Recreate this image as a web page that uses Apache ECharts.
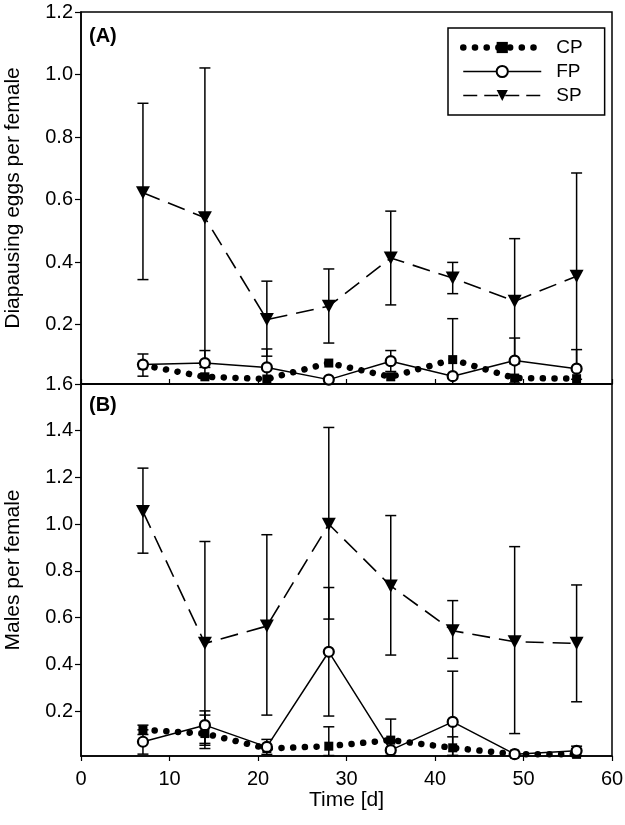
<!DOCTYPE html>
<html>
<head>
<meta charset="utf-8">
<script src="https://cdn.jsdelivr.net/npm/echarts@6/dist/echarts.min.js"></script>
<style>
html,body{margin:0;padding:0;background:#fff;}
#chart{width:625px;height:825px;}
</style>
</head>
<body>
<div id="chart"></div>
<script>
// ---- data ----
const days = [7, 14, 21, 28, 35, 42, 49, 56];

// Panel A: Diapausing eggs per female
const cpA = [0.07, 0.033, 0.026, 0.077, 0.033, 0.088, 0.029, 0.027];
const cpAHigh = [null, null, null, null, null, 0.219, null, null];
const cpALow = [null, null, null, null, null, 0.01, null, null];
const fpA = [0.072, 0.077, 0.063, 0.024, 0.083, 0.035, 0.085, 0.059];
const fpAHigh = [0.106, 0.117, 0.122, null, 0.117, null, 0.157, 0.12];
const fpALow = [0.035, 0.037, 0.01, null, 0.05, null, 0.013, 0.01];
const spA = [0.622, 0.542, 0.216, 0.259, 0.413, 0.349, 0.275, 0.355];
const spAHigh = [0.908, 1.021, 0.339, 0.378, 0.563, 0.399, 0.475, 0.685];
const spALow = [0.344, 0.063, 0.099, 0.141, 0.263, 0.299, 0.075, 0.025];

// Panel B: Males per female
const cpB = [0.12, 0.104, 0.04, 0.05, 0.076, 0.043, 0.016, 0.015];
const cpBHigh = [0.14, 0.183, null, 0.133, 0.166, 0.09, null, null];
const cpBLow = [0.1, 0.04, null, 0.01, 0.01, 0.01, null, null];
const fpB = [0.069, 0.14, 0.047, 0.454, 0.033, 0.154, 0.016, 0.03];
const fpBHigh = [0.12, 0.201, 0.079, 0.729, null, 0.371, null, 0.05];
const fpBLow = [0.016, 0.062, 0.015, 0.179, null, 0.01, null, 0.01];
const spB = [1.054, 0.49, 0.564, 1.0, 0.736, 0.544, 0.497, 0.49];
const spBHigh = [1.24, 0.926, 0.955, 1.414, 1.037, 0.673, 0.904, 0.74];
const spBLow = [0.876, 0.054, 0.183, 0.594, 0.44, 0.426, 0.104, 0.24];

const yTicksA = [0.2, 0.4, 0.6, 0.8, 1.0, 1.2];
const yTicksB = [0.2, 0.4, 0.6, 0.8, 1.0, 1.2, 1.4, 1.6];
const xTicks = [0, 10, 20, 30, 40, 50, 60];

// ---- helpers ----
const FONT = 'Liberation Sans';
const pairs = (vals) => days.map((d, i) => [d, vals[i]]);
const errData = (lo, hi) => days.map((d, i) => [d, lo[i], hi[i]]).filter(r => r[1] != null && r[2] != null);

function makeErr(idx, lo, hi, yMin) {
  return {
    type: 'custom', xAxisIndex: idx, yAxisIndex: idx, z: 1, silent: true,
    encode: {x: 0, y: [1, 2]},
    data: errData(lo, hi),
    renderItem: function (params, api) {
      const x = api.value(0), l = api.value(1), h = api.value(2);
      const pH = api.coord([x, h]);
      const lowClip = l <= yMin;
      const pL = api.coord([x, Math.max(l, yMin)]);
      const hw = 5.5;
      const st = {stroke: '#000', lineWidth: 1.5};
      const ch = [
        {type: 'line', shape: {x1: pH[0], y1: pH[1], x2: pL[0], y2: pL[1]}, style: st},
        {type: 'line', shape: {x1: pH[0] - hw, y1: pH[1], x2: pH[0] + hw, y2: pH[1]}, style: st}
      ];
      if (!lowClip) ch.push({type: 'line', shape: {x1: pL[0] - hw, y1: pL[1], x2: pL[0] + hw, y2: pL[1]}, style: st});
      return {type: 'group', children: ch};
    }
  };
}

const cpLine = {color: '#000', width: 6.5, type: [0.1, 11.6], cap: 'round'};
const fpLine = {color: '#000', width: 1.5, type: 'solid'};
const spLine = {color: '#000', width: 1.6, type: [18, 9]};

function cpSeries(idx, vals) {
  return {
    name: 'CP', type: 'line', xAxisIndex: idx, yAxisIndex: idx, z: 3,
    data: pairs(vals), symbol: 'rect', symbolSize: 9,
    itemStyle: {color: '#000'}, lineStyle: cpLine
  };
}
function fpSeries(idx, vals) {
  return {
    name: 'FP', type: 'line', xAxisIndex: idx, yAxisIndex: idx, z: 4,
    data: pairs(vals), symbol: 'circle', symbolSize: 10,
    itemStyle: {color: '#fff', borderColor: '#000', borderWidth: 2.2},
    lineStyle: fpLine
  };
}
function spSeries(idx, vals) {
  return {
    name: 'SP', type: 'line', xAxisIndex: idx, yAxisIndex: idx, z: 5,
    data: pairs(vals), symbol: 'triangle', symbolRotate: 180, symbolSize: [14, 13],
    itemStyle: {color: '#000'}, lineStyle: spLine
  };
}

const yMinA = 0.01, yMinB = 0.008;
const axisLineStyle = {lineStyle: {color: '#000', width: 1.5}};
const labelStyle = {color: '#000', fontSize: 20, fontFamily: FONT};

const option = {
  animation: false,
  backgroundColor: '#fff',
  grid: [
    {left: 81, top: 12, width: 531, height: 372, show: true, borderColor: '#000', borderWidth: 1.5,
     containLabel: false, outerBoundsMode: 'none'},
    {left: 81, top: 384, width: 531, height: 372, show: true, borderColor: '#000', borderWidth: 1.5,
     containLabel: false, outerBoundsMode: 'none'}
  ],
  xAxis: [
    {gridIndex: 0, type: 'value', min: 0, max: 60, interval: 10,
     axisLine: axisLineStyle, splitLine: {show: false},
     axisTick: {show: true, inside: true, length: 5, lineStyle: {color: '#000', width: 1.2}},
     axisLabel: {show: false}},
    {gridIndex: 1, type: 'value', min: 0, max: 60, interval: 10,
     axisLine: axisLineStyle, splitLine: {show: false},
     axisTick: {show: true, inside: false, length: 5, lineStyle: {color: '#000', width: 1.2}},
     axisLabel: Object.assign({margin: 13, customValues: xTicks}, labelStyle),
     name: 'Time [d]', nameLocation: 'middle', nameGap: 33,
     nameTextStyle: {color: '#000', fontSize: 21, fontFamily: FONT}}
  ],
  yAxis: [
    {gridIndex: 0, type: 'value', min: yMinA, max: 1.2,
     axisLine: axisLineStyle, splitLine: {show: false},
     axisTick: {show: true, length: 6, customValues: yTicksA, lineStyle: {color: '#000', width: 1.2}},
     axisLabel: Object.assign({margin: 8, customValues: yTicksA, formatter: v => v.toFixed(1)}, labelStyle),
     name: 'Diapausing eggs per female', nameLocation: 'middle', nameGap: 57,
     nameTextStyle: {color: '#000', fontSize: 21, fontFamily: FONT}},
    {gridIndex: 1, type: 'value', min: yMinB, max: 1.6,
     axisLine: axisLineStyle, splitLine: {show: false},
     axisTick: {show: true, length: 6, customValues: yTicksB, lineStyle: {color: '#000', width: 1.2}},
     axisLabel: Object.assign({margin: 8, customValues: yTicksB, formatter: v => v.toFixed(1)}, labelStyle),
     name: 'Males per female', nameLocation: 'middle', nameGap: 57,
     nameTextStyle: {color: '#000', fontSize: 21, fontFamily: FONT}}
  ],
  legend: {
    data: [
      {name: 'CP', lineStyle: cpLine},
      {name: 'FP', lineStyle: {color: '#000', width: 1.5}},
      {name: 'SP', lineStyle: {color: '#000', width: 1.6, type: [14, 7]}}
    ],
    orient: 'vertical', left: 448, top: 28,
    itemWidth: 78, itemHeight: 14, itemGap: 5,
    padding: [10, 22, 10, 12],
    borderColor: '#000', borderWidth: 1.5,
    selectedMode: false,
    textStyle: {color: '#000', fontSize: 19, fontFamily: FONT, padding: [0, 0, 0, 10]}
  },
  graphic: [
    {type: 'text', left: 89, top: 26, style: {text: '(A)', font: 'bold 20px "Liberation Sans"', fill: '#000'}},
    {type: 'text', left: 89, top: 395, style: {text: '(B)', font: 'bold 20px "Liberation Sans"', fill: '#000'}}
  ],
  series: [
    makeErr(0, cpALow, cpAHigh, yMinA),
    makeErr(0, fpALow, fpAHigh, yMinA),
    makeErr(0, spALow, spAHigh, yMinA),
    cpSeries(0, cpA), fpSeries(0, fpA), spSeries(0, spA),
    makeErr(1, cpBLow, cpBHigh, yMinB),
    makeErr(1, fpBLow, fpBHigh, yMinB),
    makeErr(1, spBLow, spBHigh, yMinB),
    cpSeries(1, cpB), fpSeries(1, fpB), spSeries(1, spB)
  ]
};

const chart = echarts.init(document.getElementById('chart'), null, {renderer: 'canvas'});
chart.setOption(option);
</script>
</body>
</html>
